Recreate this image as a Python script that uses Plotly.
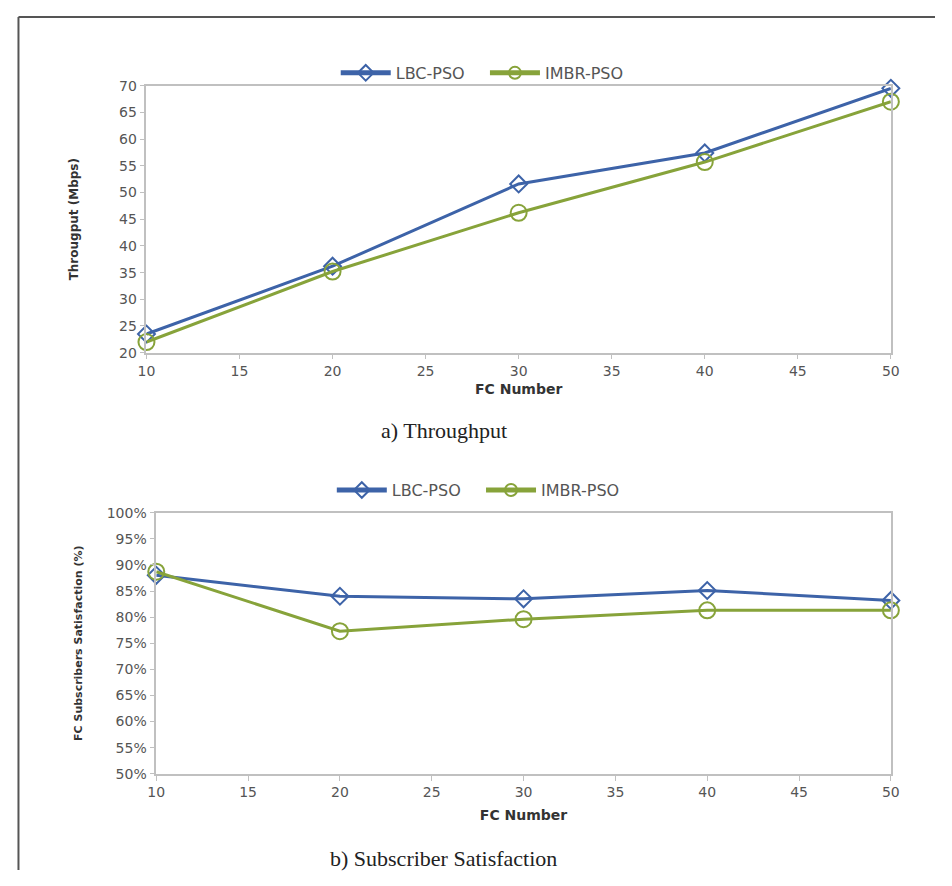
import plotly.graph_objects as go

fc_number = [10, 20, 30, 40, 50]
throughput_lbc = [23.5, 36.2, 51.6, 57.4, 69.5]
throughput_imbr = [22.0, 35.2, 46.2, 55.7, 67.0]
satisfaction_lbc = [0.880, 0.840, 0.835, 0.851, 0.832]
satisfaction_imbr = [0.887, 0.773, 0.796, 0.813, 0.813]
series_names = ["LBC-PSO", "IMBR-PSO"]

BLUE = "#3d63a8"
GREEN = "#87a33a"
# page has an 8px body margin; figure sized so page fits the 952x886 window
OFF = 8
W, H = 952 - 2 * OFF, 886 - 2 * OFF
SANS = "DejaVu Sans, Verdana, sans-serif"
PAD = "\u00a0" * 3

def px_x(x):
    return (x - OFF) / W

def px_y(y):
    return 1 - (y - OFF) / H

fig = go.Figure()

def add(xs, ys, name, color, symbol, size, xa, ya, leg):
    fig.add_trace(go.Scatter(x=xs, y=ys, name=name + PAD, mode="lines+markers",
                             line=dict(color=color, width=3),
                             marker=dict(symbol=symbol, size=size, color=color, line=dict(width=2)),
                             cliponaxis=False, xaxis=xa, yaxis=ya, legend=leg))

add(fc_number, throughput_lbc, series_names[0], BLUE, "diamond-open", 13, "x", "y", "legend")
add(fc_number, throughput_imbr, series_names[1], GREEN, "circle-open", 16, "x", "y", "legend")
add(fc_number, satisfaction_lbc, series_names[0], BLUE, "diamond-open", 13, "x2", "y2", "legend2")
add(fc_number, satisfaction_imbr, series_names[1], GREEN, "circle-open", 16, "x2", "y2", "legend2")

tick_font = dict(family=SANS, size=14, color="#555")
xtitle_font = dict(family=SANS, size=14, color="#333")
ytitle_font = dict(family=SANS, size=12, color="#333")
axis_common = dict(showgrid=False, zeroline=False, showline=True, linecolor="#c0c0c0", linewidth=1.5,
                   mirror=True, ticks="outside", ticklen=5, tickcolor="#c0c0c0", tickfont=tick_font)
legend_common = dict(orientation="h", xanchor="center", yanchor="middle",
                     font=dict(family=SANS, size=16, color="#555"),
                     bgcolor="rgba(0,0,0,0)", itemwidth=50, itemsizing="constant")

fig.update_layout(
    width=W, height=H,
    autosize=False,
    margin=dict(l=0, r=0, t=0, b=0),
    paper_bgcolor="white", plot_bgcolor="white",
    xaxis=dict(domain=[px_x(140), px_x(899)], range=[10, 50], dtick=5, anchor="y",
               title=dict(text="<b>FC Number</b>", font=xtitle_font, standoff=6), **axis_common),
    yaxis=dict(domain=[px_y(351), px_y(79)], range=[20, 70], dtick=5, anchor="x",
               title=dict(text="<b>Througput (Mbps)</b>", font=ytitle_font, standoff=38),
               **axis_common),
    xaxis2=dict(domain=[px_x(150), px_x(899)], range=[10, 50], dtick=5, anchor="y2",
                title=dict(text="<b>FC Number</b>", font=xtitle_font, standoff=11), **axis_common),
    yaxis2=dict(domain=[px_y(780), px_y(514)], range=[0.5, 1.0], dtick=0.05, tickformat=".0%", anchor="x2",
                title=dict(text="<b>FC Subscribers Satisfaction (%)</b>", font=dict(family=SANS, size=11, color="#333"), standoff=22),
                **axis_common),
    legend=dict(x=px_x(490), y=px_y(66), **legend_common),
    legend2=dict(x=px_x(486), y=px_y(491), **legend_common),
    showlegend=True,
)

caption_font = dict(family="Liberation Serif, Times New Roman, serif", size=22, color="#222")
fig.add_annotation(text="a) Throughput", x=px_x(443), y=px_y(430), xref="paper", yref="paper",
                   showarrow=False, font=caption_font, xanchor="center", yanchor="middle")
fig.add_annotation(text="b) Subscriber Satisfaction", x=px_x(443), y=px_y(866), xref="paper", yref="paper",
                   showarrow=False, font=caption_font, xanchor="center", yanchor="middle")

fig.add_shape(type="line", xref="paper", yref="paper", x0=px_x(9.5), x1=px_x(9.5), y0=0, y1=px_y(9),
              line=dict(color="#555", width=2))
fig.add_shape(type="line", xref="paper", yref="paper", x0=px_x(9.5), x1=1, y0=px_y(9), y1=px_y(9),
              line=dict(color="#555", width=2))

fig.write_html("out.html", config={"displayModeBar": False})
